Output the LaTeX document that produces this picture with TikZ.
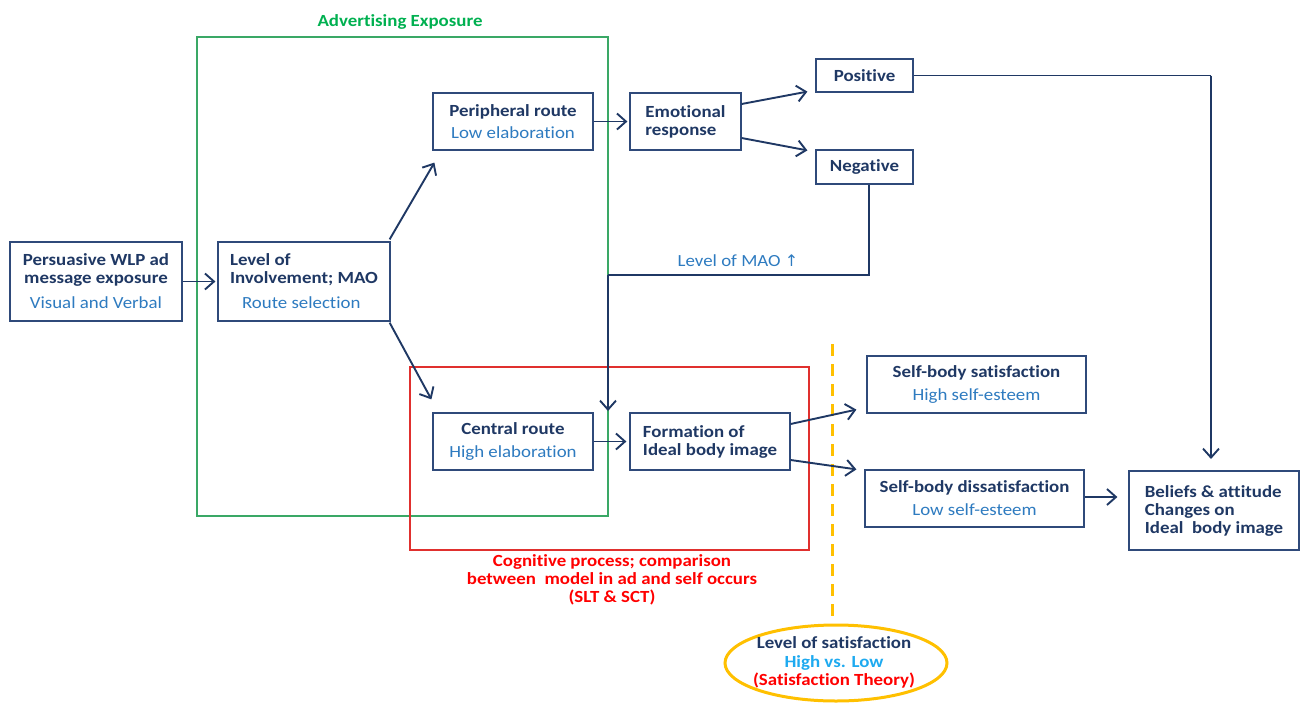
\documentclass[tikz,border=0pt]{standalone}
\usepackage{fontspec}
\setmainfont{Carlito}[FakeStretch=1.11,Ligatures=NoCommon]
\newfontfamily\symfont{DejaVu Sans}
\usetikzlibrary{arrows.meta,calc,shapes.geometric}
\definecolor{navy}{HTML}{1F3864}
\definecolor{boxline}{HTML}{2F4A7A}
\definecolor{lblue}{HTML}{2E7BC0}
\definecolor{sky}{HTML}{1EAAF0}
\definecolor{grn}{HTML}{00B050}
\definecolor{grnline}{HTML}{3AA866}
\definecolor{redline}{HTML}{E0302E}
\definecolor{gold}{HTML}{FFC000}
\tikzset{
  box/.style={draw=boxline, line width=1.2pt, fill=white, inner sep=0pt, font=\fontsize{17}{18}\selectfont, text=navy, align=center},
  conn/.style={draw=navy, line width=1.9pt, -{Straight Barb[length=9pt,width=16pt,line width=1.9pt]}},
  line/.style={draw=navy, line width=1.9pt},
  lbl/.style={font=\fontsize{17}{18}\selectfont, inner sep=0pt}
}
\newcommand{\bt}[1]{\textbf{#1}}
\newcommand{\st}[1]{\textcolor{lblue}{#1}}
\begin{document}
\begin{tikzpicture}[x=1pt,y=-1pt]
\useasboundingbox (0,0) rectangle (1307,705);
% frames
\draw[grnline, line width=1.1pt] (197,37) rectangle (608,516);
\draw[redline, line width=1.1pt] (410,367) rectangle (809,550);
\node[lbl, text=grn, font=\bfseries\fontsize{17}{18}\selectfont] (advlbl) at (400,22) {Advertising Exposure};
\node[lbl, text=red, font=\bfseries\fontsize{17}{18}\selectfont, align=center] (coglbl) at (612,580) {Cognitive process; comparison\\between\ \ model in ad and self occurs\\(SLT \& SCT)};
% dashed line and ellipse
\draw[gold, line width=3pt, dash pattern=on 12pt off 8pt] (832,344) -- (832,616);
\node[draw=gold, line width=3pt, ellipse, minimum width=222pt, minimum height=76pt, inner sep=0pt, fill=white] (ell) at (836,663) {};
\node[lbl, align=center, font=\bfseries\fontsize{17}{18.5}\selectfont] (elltxt) at (834,662.5) {\textcolor{navy}{Level of satisfaction}\\\textcolor{sky}{High vs. Low}\\\textcolor{red}{(Satisfaction Theory)}};
% nodes
\node[box, minimum width=172pt, minimum height=79pt] (A) at (96,281.5) {\bt{Persuasive WLP ad}\\\bt{message exposure}\\[7pt]\st{Visual and Verbal}};
\node[box, minimum width=172pt, minimum height=79pt, align=left] (B) at (304,281.5) {\bt{Level of}\\\bt{Involvement; MAO}\\[7pt]\hspace*{12pt}\st{Route selection}};
\node[box, minimum width=160pt, minimum height=57pt] (P) at (513,121.5) {\bt{Peripheral route}\\[4pt]\st{Low elaboration}};
\node[box, minimum width=111pt, minimum height=57pt, align=left] (E) at (685.5,121.5) {\bt{Emotional}\\\bt{response}};
\node[box, minimum width=97pt, minimum height=33pt] (Pos) at (864.5,75.5) {\bt{Positive}};
\node[box, minimum width=97pt, minimum height=34pt] (Neg) at (864.5,167) {\bt{Negative}};
\node[box, minimum width=160pt, minimum height=57pt] (C) at (513,441.5) {\bt{Central route}\\[5pt]\st{High elaboration}};
\node[box, minimum width=160pt, minimum height=57pt, align=left] (F) at (710,441.5) {\bt{Formation of}\\\bt{Ideal body image}};
\node[box, minimum width=219pt, minimum height=57pt] (S) at (976.5,384.5) {\bt{Self-body satisfaction}\\[5pt]\st{High self-esteem}};
\node[box, minimum width=219pt, minimum height=57pt] (D) at (974.5,498.5) {\bt{Self-body dissatisfaction}\\[5pt]\st{Low self-esteem}};
\node[box, minimum width=170pt, minimum height=79pt, align=left] (Bel) at (1214,510.5) {\bt{Beliefs \& attitude}\\\bt{Changes on}\\\bt{Ideal\ \ body image}};
% MAO label
\node[lbl, text=lblue] (mao) at (738,261) {Level of MAO {\symfont\fontsize{16}{18}\selectfont ↑}};
% connectors
\draw[conn] (A.east) -- ($(B.west)+(-2,0)$);
\draw[conn] ($(B.north east)+(-1,-2)$) -- ($(P.south west)+(2,12)$);
\draw[conn] ($(B.south east)+(-1,1)$) -- ($(C.north west)+(-1,-13)$);
\draw[conn] (P.east) -- ($(E.west)+(-2,0)$);
\draw[conn] ($(E.east)+(0,-17.5)$) -- ($(Pos.south west)+(-8,-1)$);
\draw[conn] ($(E.east)+(0,16.5)$) -- ($(Neg.north west)+(-8,1)$);
\coordinate (m0) at ($(Neg.south)+(4.5,0)$);
\coordinate (m1) at (869,275);
\coordinate (m2) at (608,275);
\coordinate (m3) at (608,411);
\draw[line] (m0) -- (m1) -- (m2);
\draw[conn] (m2) -- (m3);
\coordinate (p1) at (1211,75.5);
\coordinate (p2) at (1211,459);
\draw[line] (Pos.east) -- (p1);
\draw[conn] (p1) -- (p2);
\draw[conn] (C.east) -- ($(F.west)+(-3,0)$);
\draw[conn] ($(F.east)+(0,-17.5)$) -- ($(S.south west)+(-10,-4)$);
\draw[conn] ($(F.east)+(0,18.5)$) -- ($(D.north west)+(-8,0)$);
\draw[conn] ($(D.east)+(0,-1.5)$) -- ($(D.east -| Bel.west)+(-11,-1.5)$);
\end{tikzpicture}
\end{document}
